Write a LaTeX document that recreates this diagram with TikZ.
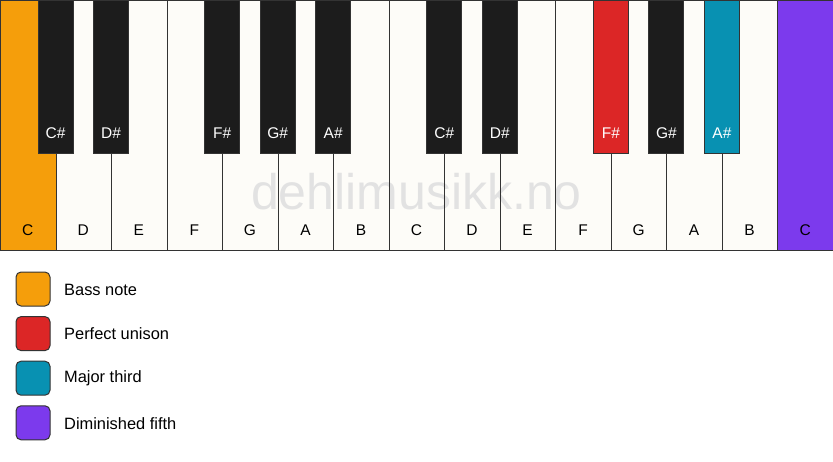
\documentclass[tikz,border=0pt]{standalone}
\usepackage{fontspec}
\setmainfont{Liberation Sans}
\definecolor{wkey}{HTML}{FDFCF8}
\definecolor{bkey}{HTML}{1C1C1C}
\definecolor{kedge}{HTML}{333333}
\definecolor{bass}{HTML}{F59E0B}
\definecolor{unison}{HTML}{DC2626}
\definecolor{third}{HTML}{0891B2}
\definecolor{fifth}{HTML}{7C3AED}
\definecolor{wmark}{HTML}{E2E2E2}
\begin{document}
\begin{tikzpicture}[x=1pt,y=-1pt,
  whitekey/.style={line width=1pt,fill=wkey,minimum width=55.53pt,minimum height=250pt,anchor=north west,inner sep=0pt},
  keyedge/.style={draw=kedge,line width=1pt,minimum width=55.53pt,minimum height=250pt,anchor=north west,inner sep=0pt},
  blackkey/.style={draw=kedge,line width=1pt,fill=bkey,minimum width=35pt,minimum height=153pt,anchor=north,inner sep=0pt},
  wlabel/.style={font=\fontsize{15.5}{18}\selectfont,text=black},
  blabel/.style={font=\fontsize{15.5}{18}\selectfont,text=white},
  legbox/.style={draw=kedge,line width=1pt,rounded corners=5pt,minimum width=34pt,minimum height=34pt,inner sep=0pt},
  legtext/.style={font=\fontsize{16.4}{19}\selectfont,anchor=west,inner sep=0pt}]
\useasboundingbox[fill=white] (0,0) rectangle (833,461);
% white key fills
\foreach \i/\c in {0/bass,1/wkey,2/wkey,3/wkey,4/wkey,5/wkey,6/wkey,7/wkey,8/wkey,9/wkey,10/wkey,11/wkey,12/wkey,13/wkey,14/fifth}{
  \node[whitekey,fill=\c] (w\i) at (\i*55.53,0) {};
}
% watermark
\node[text=wmark,font=\fontsize{50}{60}\selectfont] (wm) at (416.5,192) {dehlimusikk.no};
% white key outlines and labels
\foreach \i/\n in {0/C,1/D,2/E,3/F,4/G,5/A,6/B,7/C,8/D,9/E,10/F,11/G,12/A,13/B,14/C}{
  \node[keyedge] (we\i) at (\i*55.53,0) {};
  \node[wlabel] (wl\i) at (\i*55.53+27.77,230) {\n};
}
% black keys
\foreach \i/\n/\c in {1/C\#/bkey,2/D\#/bkey,4/F\#/bkey,5/G\#/bkey,6/A\#/bkey,8/C\#/bkey,9/D\#/bkey,11/F\#/unison,12/G\#/bkey,13/A\#/third}{
  \node[blackkey,fill=\c] (b\i) at (\i*55.53,0) {};
  \node[blabel] (bl\i) at (\i*55.53,133) {\n};
}
% legend
\foreach \j/\c/\t in {0/bass/Bass note,1/unison/Perfect unison,2/third/Major third,3/fifth/Diminished fifth}{
  \node[legbox,fill=\c] (lb\j) at (33,289+\j*44.6) {};
  \node[legtext] (lt\j) at (64,289.5+\j*44.6) {\t};
}
\end{tikzpicture}
\end{document}
